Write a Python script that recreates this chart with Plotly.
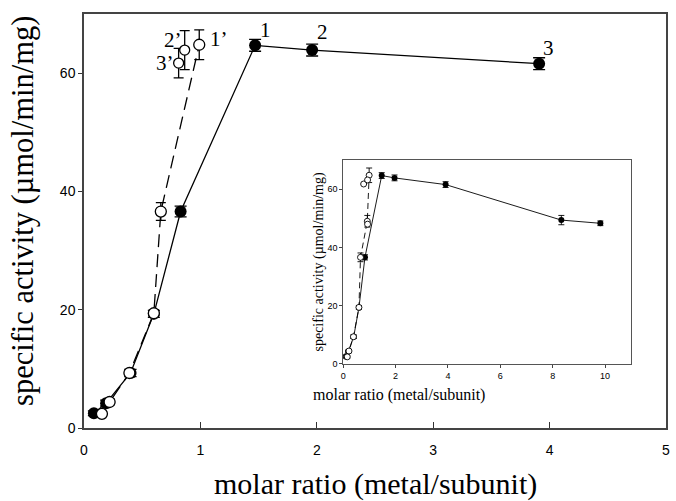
import plotly.graph_objects as go

# ---------------- data ----------------
filled_x = [0.085, 0.19, 0.40, 0.60, 0.83, 1.47, 1.96, 3.91]
filled_y = [2.5, 4.2, 9.3, 19.3, 36.6, 64.7, 63.9, 61.6]
filled_err = [0.4, 0.5, 0.6, 0.6, 0.9, 1.0, 1.0, 1.0]

open_x = [0.154, 0.22, 0.39, 0.60, 0.66, 0.99]
open_y = [2.4, 4.4, 9.3, 19.4, 36.6, 64.8]
open_err = [0.4, 0.5, 0.6, 0.6, 1.5, 2.5]

prime_x = [0.865, 0.813]          # 2', 3'
prime_y = [63.9, 61.7]
prime_err = [3.3, 2.5]

label_text = ["1", "2", "3", "1\u2019", "2\u2019", "3\u2019"]
label_x = [1.47, 1.96, 3.91, 0.99, 0.865, 0.813]
label_y = [64.7, 63.9, 61.6, 64.8, 63.9, 61.7]

# inset (full range)
in_filled_x = [0.085, 0.19, 0.40, 0.60, 0.83, 1.47, 1.96, 3.91, 8.33, 9.82]
in_filled_y = [2.5, 4.2, 9.3, 19.3, 36.6, 64.7, 63.9, 61.6, 49.4, 48.3]
in_filled_err = [0.4, 0.5, 0.6, 0.6, 0.9, 1.0, 1.0, 1.0, 1.6, 0.8]

in_open_x = [0.154, 0.22, 0.39, 0.60, 0.66, 0.92, 0.99]
in_open_y = [2.4, 4.4, 9.3, 19.4, 36.6, 49.0, 64.8]
in_open_err = [0.4, 0.5, 0.6, 0.6, 1.5, 2.0, 2.5]
in_extra_x = [0.93, 0.78, 0.93]
in_extra_y = [48.0, 61.8, 63.2]

x_ticks = [0, 1, 2, 3, 4, 5]
y_ticks = [0, 20, 40, 60]
in_x_ticks = [0, 2, 4, 6, 8, 10]

fig = go.Figure()

# ---------------- main plot ----------------
fig.add_trace(go.Scatter(
    x=filled_x, y=filled_y, mode="lines+markers",
    line=dict(color="black", width=1.3),
    marker=dict(symbol="circle", size=12, color="black"),
    error_y=dict(type="data", array=filled_err, color="black", thickness=1.3, width=6),
    showlegend=False))

fig.add_trace(go.Scatter(
    x=open_x, y=open_y, mode="lines+markers",
    line=dict(color="black", width=1.3, dash="13px,7px"),
    marker=dict(symbol="circle", size=11, color="white", line=dict(color="black", width=1.3)),
    error_y=dict(type="data", array=open_err, color="black", thickness=1.3, width=5),
    showlegend=False))

fig.add_trace(go.Scatter(
    x=prime_x, y=prime_y, mode="markers",
    marker=dict(symbol="circle", size=10, color="white", line=dict(color="black", width=1.3)),
    error_y=dict(type="data", array=prime_err, color="black", thickness=1.3, width=5),
    showlegend=False))

# ---------------- inset ----------------
fig.add_trace(go.Scatter(
    x=in_filled_x, y=in_filled_y, mode="lines+markers", xaxis="x2", yaxis="y2",
    line=dict(color="black", width=0.9),
    marker=dict(symbol="circle", size=6, color="black"),
    error_y=dict(type="data", array=in_filled_err, color="black", thickness=0.9, width=3),
    showlegend=False))

fig.add_trace(go.Scatter(
    x=in_open_x, y=in_open_y, mode="lines+markers", xaxis="x2", yaxis="y2",
    line=dict(color="black", width=0.9, dash="6px,4px"),
    marker=dict(symbol="circle", size=6, color="white", line=dict(color="black", width=0.9)),
    error_y=dict(type="data", array=in_open_err, color="black", thickness=0.9, width=3),
    showlegend=False))

fig.add_trace(go.Scatter(
    x=in_extra_x, y=in_extra_y, mode="markers", xaxis="x2", yaxis="y2",
    marker=dict(symbol="circle", size=6, color="white", line=dict(color="black", width=0.9)),
    showlegend=False))

# point labels
offsets = {"1": (10, -15), "2": (10, -18), "3": (9, -16),
           "1\u2019": (20, -6), "2\u2019": (-12, -10), "3\u2019": (-14, 0)}
annotations = []
for t, xv, yv in zip(label_text, label_x, label_y):
    ax, ay = offsets[t]
    annotations.append(dict(x=xv, y=yv, xref="x", yref="y", text=t, showarrow=True,
                            arrowcolor="rgba(0,0,0,0)", ax=ax, ay=ay,
                            font=dict(family="Liberation Serif", size=21, color="black")))

# axis titles as annotations
annotations.append(dict(x=0.5, y=-0.135, xref="paper", yref="paper", yanchor="middle",
                        text="molar ratio (metal/subunit)", showarrow=False,
                        font=dict(family="Liberation Serif", size=30, color="black")))
annotations.append(dict(x=-0.106, y=0.525, xref="paper", yref="paper", xanchor="center",
                        text="specific activity (\u00b5mol/min/mg)", showarrow=False, textangle=-90,
                        font=dict(family="Liberation Serif", size=30.5, color="black")))
# inset titles
annotations.append(dict(x=0.693, y=0.079, xref="paper", yref="paper", yanchor="middle",
                        text="molar ratio (metal/subunit)", showarrow=False,
                        font=dict(family="Liberation Serif", size=16, color="black")))
annotations.append(dict(x=0.404, y=0.40, xref="paper", yref="paper", xanchor="center",
                        text="specific activity (\u00b5mol/min/mg)", showarrow=False, textangle=-90,
                        font=dict(family="Liberation Serif", size=14, color="black")))

fig.update_layout(
    width=676, height=501,
    margin=dict(l=84, r=6, t=14, b=73),
    paper_bgcolor="white", plot_bgcolor="white",
    font=dict(family="Liberation Sans", color="black"),
    xaxis=dict(range=[0, 5], tickvals=x_ticks, ticks="inside", ticklen=6, tickcolor="#333",
               showline=True, linecolor="#444", linewidth=1.5, mirror=True, showgrid=False,
               zeroline=False, tickfont=dict(size=14), ticklabelstandoff=8),
    yaxis=dict(range=[0, 70], tickvals=y_ticks, ticks="outside", ticklen=4, tickcolor="#333",
               showline=True, linecolor="#444", linewidth=1.5, mirror=True, showgrid=False,
               zeroline=False, tickfont=dict(size=14)),
    xaxis2=dict(domain=[0.4454, 0.9403], anchor="y2", range=[0, 11], tickvals=in_x_ticks,
                ticks="outside", ticklen=3, showline=True, linecolor="#555", linewidth=1,
                mirror=True, showgrid=False, zeroline=False, tickfont=dict(size=9)),
    yaxis2=dict(domain=[0.155, 0.647], anchor="x2", range=[0, 70], tickvals=y_ticks,
                ticks="outside", ticklen=3, showline=True, linecolor="#555", linewidth=1,
                mirror=True, showgrid=False, zeroline=False, tickfont=dict(size=9)),
    annotations=annotations,
)

fig.write_html("out.html", config={"displayModeBar": False},
               post_script="document.body.style.margin='0';document.body.style.padding='0';"
                           "document.body.style.overflow='hidden';")
